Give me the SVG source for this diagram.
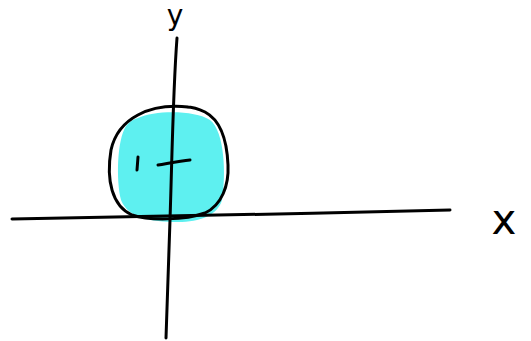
<svg xmlns="http://www.w3.org/2000/svg" width="531" height="341" viewBox="0 0 531 341">
<style>
.ink{fill:none;stroke:#000;stroke-width:3;stroke-linecap:round;stroke-linejoin:round}
.lbl{font-family:"DejaVu Sans","Liberation Sans",sans-serif;fill:#000}
</style>
<rect width="531" height="341" fill="#fff"/>
<g id="disk">
<path d="M138 118 C155 110 195 110 210 120 C225 132 226 175 222 200 C218 215 200 222 178 222 C150 222 128 218 121 200 C116 180 117 140 126 126 C130 121 134 119 138 118 Z" fill="#5ef0f0"/>
<path class="ink" d="M188 107 C150 103 118 118 111 150 C106 180 112 206 132 215 C150 221 185 220 205 213 C222 205 229 185 228 165 C227 140 220 120 205 112 C199 109 193 107 186 107"/>
</g>
<g id="axes">
<path class="ink" d="M12 219 C120 217 300 214 450 210"/>
<path class="ink" d="M177 38 C173 90 172 160 170 220 C168 270 167 310 166 338"/>
<path class="ink" d="M158 165 C170 163 180 161 190 160"/>
<path class="ink" d="M138 157 L137 170"/>
</g>
<g id="labels">
<text class="lbl" x="175" y="25" font-size="28" text-anchor="middle">y</text>
<text class="lbl" x="504" y="234" font-size="42" text-anchor="middle">x</text>
</g>
</svg>
